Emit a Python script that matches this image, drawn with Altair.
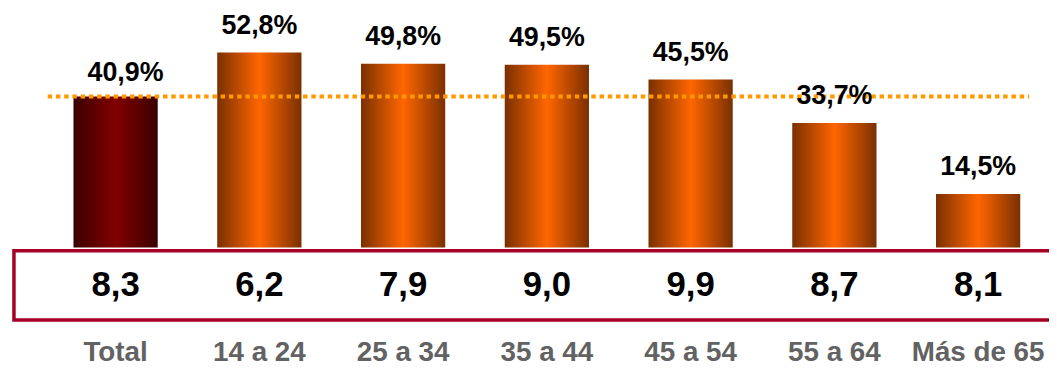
import altair as alt
import pandas as pd

CATEGORIES = ["Total", "14 a 24", "25 a 34", "35 a 44", "45 a 54", "55 a 64", "Más de 65"]
PCT = [40.9, 52.8, 49.8, 49.5, 45.5, 33.7, 14.5]
SCORE = [8.3, 6.2, 7.9, 9.0, 9.9, 8.7, 8.1]

df = pd.DataFrame({"cat": CATEGORIES, "pct": PCT, "score": SCORE})
df["pct_label"] = [f"{v:.1f}".replace(".", ",") + "%" for v in PCT]
df["score_label"] = [f"{v:.1f}".replace(".", ",") for v in SCORE]

FONT = "Liberation Sans"

grad_orange = {
    "gradient": "linear", "x1": 0, "x2": 1, "y1": 0, "y2": 0,
    "stops": [
        {"offset": 0, "color": "#7A3000"},
        {"offset": 0.5, "color": "#FF6600"},
        {"offset": 1, "color": "#7A3000"},
    ],
}
grad_total = {
    "gradient": "linear", "x1": 0, "x2": 1, "y1": 0, "y2": 0,
    "stops": [
        {"offset": 0, "color": "#3A0000"},
        {"offset": 0.5, "color": "#820000"},
        {"offset": 1, "color": "#3A0000"},
    ],
}

x = alt.X("cat:N", sort=CATEGORIES,
          scale=alt.Scale(paddingInner=0.414, paddingOuter=0.2), axis=None)
y = alt.Y("pct:Q", scale=alt.Scale(domain=[0, 64.5], nice=False, zero=True), axis=None)

base = alt.Chart(df)
is_total = "datum.cat == 'Total'"
not_total = "datum.cat != 'Total'"

bars_total = base.transform_filter(is_total).mark_bar(color=grad_total).encode(x=x, y=y)
bars_other = base.transform_filter(not_total).mark_bar(color=grad_orange).encode(x=x, y=y)

rule = base.transform_filter(is_total).mark_rule(
    color="#FF9900", strokeWidth=4, strokeDash=[4.5, 3.8]
).encode(y=y, x=alt.value(3), x2=alt.value(992))

pct_other = base.transform_filter(not_total).mark_text(
    font=FONT, fontSize=27, fontWeight="bold", color="black",
    baseline="alphabetic", dy=-19
).encode(x=x, y=y, text="pct_label:N")

pct_total = base.transform_filter(is_total).mark_text(
    font=FONT, fontSize=27, fontWeight="bold", color="black",
    baseline="alphabetic", dy=-16, dx=10
).encode(x=x, y=y, text="pct_label:N")

box = alt.Chart(pd.DataFrame({"a": [0]})).mark_rect(
    fill="white", fillOpacity=0, stroke="#A50026", strokeWidth=3.5
).encode(x=alt.value(-31), x2=alt.value(1040), y=alt.value(243.3), y2=alt.value(312.9))

scores = base.mark_text(
    font=FONT, fontSize=35, fontWeight="bold", color="black", baseline="alphabetic"
).encode(x=x, y=alt.value(288.7), text="score_label:N")

cats = base.mark_text(
    font=FONT, fontSize=28, fontWeight="bold", color="#626262", baseline="alphabetic"
).encode(x=x, y=alt.value(354), text="cat:N")

chart = alt.layer(bars_total, bars_other, rule, pct_other, pct_total, box, scores, cats).properties(
    width=1012, height=240,
    autosize=alt.AutoSizeParams(type="none"),
    padding={"left": 37, "top": 0, "right": 0, "bottom": 121},
).configure_view(stroke=None)

chart.save("out.html", embed_options={"renderer": "svg", "actions": False})
